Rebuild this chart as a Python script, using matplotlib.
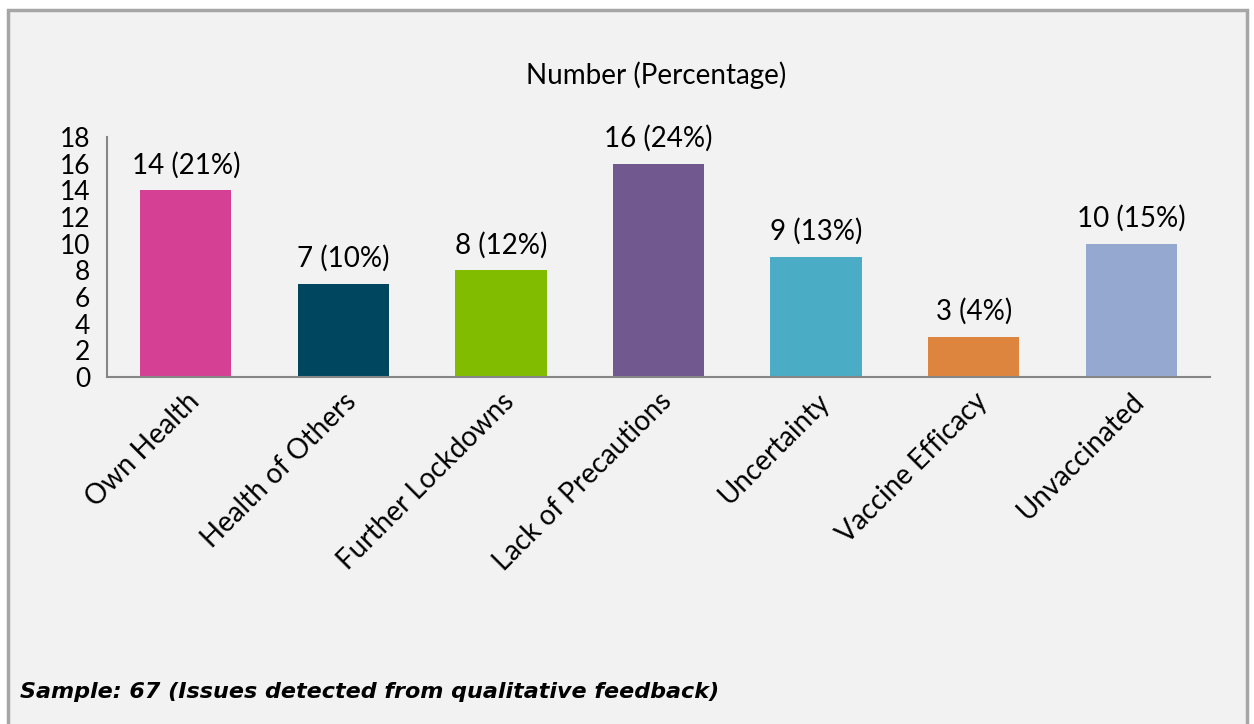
import matplotlib.pyplot as plt
import numpy as np
from matplotlib.patches import Rectangle

categories = ["Own Health", "Health of Others", "Further Lockdowns", "Lack of Precautions",
              "Uncertainty", "Vaccine Efficacy", "Unvaccinated"]
counts = [14, 7, 8, 16, 9, 3, 10]
percents = [21, 10, 12, 24, 13, 4, 15]
colors = ["#D53F94", "#00465F", "#82BC00", "#71588F", "#4BACC6", "#DD843E", "#95A9D0"]
yticks = [0, 2, 4, 6, 8, 10, 12, 14, 16, 18]

plt.rcParams['font.family'] = ['Lato', 'DejaVu Sans']

fig = plt.figure(figsize=(12.54, 7.24), dpi=100)
fig.patch.set_facecolor("white")
# outer frame
fig.patches.append(Rectangle((8 / 1254, -0.01), 1239 / 1254, 1 - 10 / 724 + 0.01,
                             transform=fig.transFigure, facecolor="#F2F2F2",
                             edgecolor="#A6A6A6", linewidth=2.5, zorder=-5))

ax = fig.add_axes([107 / 1254, 1 - 377 / 724, (1210 - 107) / 1254, 240 / 724])
ax.set_facecolor("none")
ax.set_zorder(2)
x = np.arange(len(categories))
ax.bar(x, counts, width=0.58, color=colors)
for xi, c, p in zip(x, counts, percents):
    ax.text(xi, c + 0.9, f"{c} ({p}%)", ha="center", va="bottom", fontsize=20)

ax.set_xlim(-0.5, len(categories) - 0.5)
ax.set_ylim(0, 18)
ax.set_yticks(yticks)
ax.tick_params(axis="y", length=0, labelsize=19, pad=12)
ax.tick_params(axis="x", length=0, pad=8)
ax.set_xticks(x)
ax.set_xticklabels(categories, rotation=45, ha="right", rotation_mode="anchor", fontsize=20)
for s in ["top", "right"]:
    ax.spines[s].set_visible(False)
ax.spines["left"].set_color("#868686")
ax.spines["bottom"].set_color("#868686")
ax.spines["left"].set_linewidth(1.5)
ax.spines["bottom"].set_linewidth(1.5)

fig.text(656 / 1254, 1 - 75 / 724, "Number (Percentage)", ha="center", va="center", fontsize=20)
fig.text(20 / 1254, 1 - 692 / 724, "Sample: 67 (Issues detected from qualitative feedback)",
         ha="left", va="center", fontsize=16, style="italic", weight="bold",
         family=["DejaVu Sans"])

fig.savefig("out.png", dpi=100, facecolor=fig.get_facecolor())
